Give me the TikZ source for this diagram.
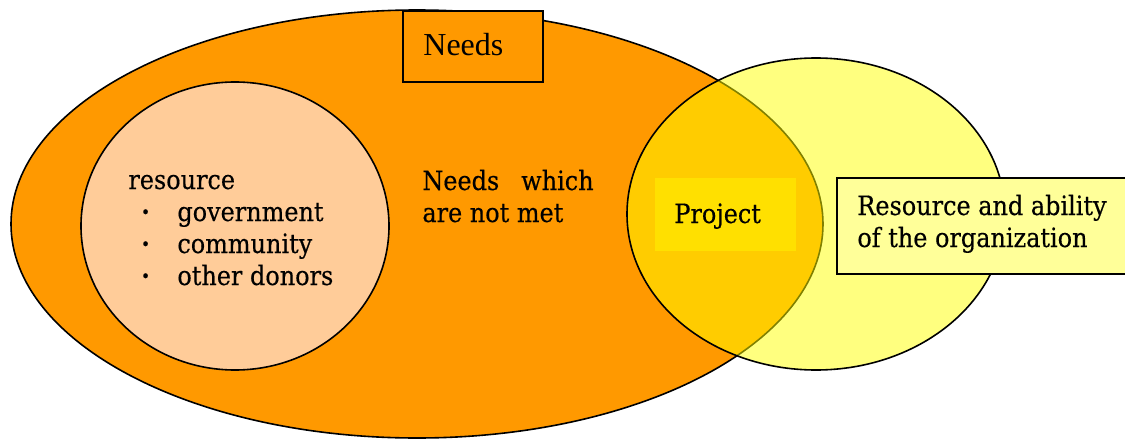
\documentclass[tikz,border=0pt]{standalone}
\usepackage{fontspec}
\setmainfont{DejaVu Serif Condensed}[FakeBold=0.4]
\newfontfamily\needsfont{Liberation Serif}
\definecolor{needsorange}{HTML}{FF9900}
\definecolor{resourcepeach}{HTML}{FFCC99}
\definecolor{orgyellow}{HTML}{FFFF00}
\definecolor{projyellow}{HTML}{FFE000}
\definecolor{boxyellow}{HTML}{FFFF99}
\tikzset{
  txt/.style={anchor=base west, inner sep=0pt, font=\fontsize{13.3pt}{16pt}\selectfont},
  outline/.style={draw=black, line width=0.8pt}
}
\newcommand{\resitem}[3]{\node[txt] (dot#1) at (141,#2) {\textbf{·}}; \node[txt] (#1) at (177,#2) {#3};}

\begin{document}
\begin{tikzpicture}[x=0.5pt,y=-0.5pt]
        \useasboundingbox (0,0) rectangle (1125,439);
        % needs
        \draw[outline, fill=needsorange] (417,224) ellipse [x radius=406, y radius=214];
        % other resources
        \draw[outline, fill=resourcepeach] (235,226) ellipse [x radius=154, y radius=144];
        % organization
        \draw[outline, fill=orgyellow, fill opacity=0.5] (816,214) ellipse [x radius=189, y radius=156];
        % labels
        \draw[outline, fill=needsorange] (403,11) rectangle (543,82);
        \node[txt, font=\needsfont\fontsize{16pt}{18pt}\selectfont] (needs) at (423,55) {Needs};
        \node[txt] (resource) at (128,189) {resource};
        \resitem{gov}{221}{government}
        \resitem{com}{253}{community}
        \resitem{don}{285}{other donors}
        \node[txt] (unmet1) at (422,190) {Needs\hspace{11pt}which};
        \node[txt] (unmet2) at (422,222) {are not met};
        \fill[projyellow] (655,178) rectangle (796,251);
        \node[txt] (project) at (674,223) {Project};
        \draw[outline, fill=boxyellow] (837,178) rectangle (1135,274);
        \node[txt] (org1) at (857,215) {Resource and ability};
        \node[txt] (org2) at (857,247) {of the organization};
\end{tikzpicture}
\end{document}
